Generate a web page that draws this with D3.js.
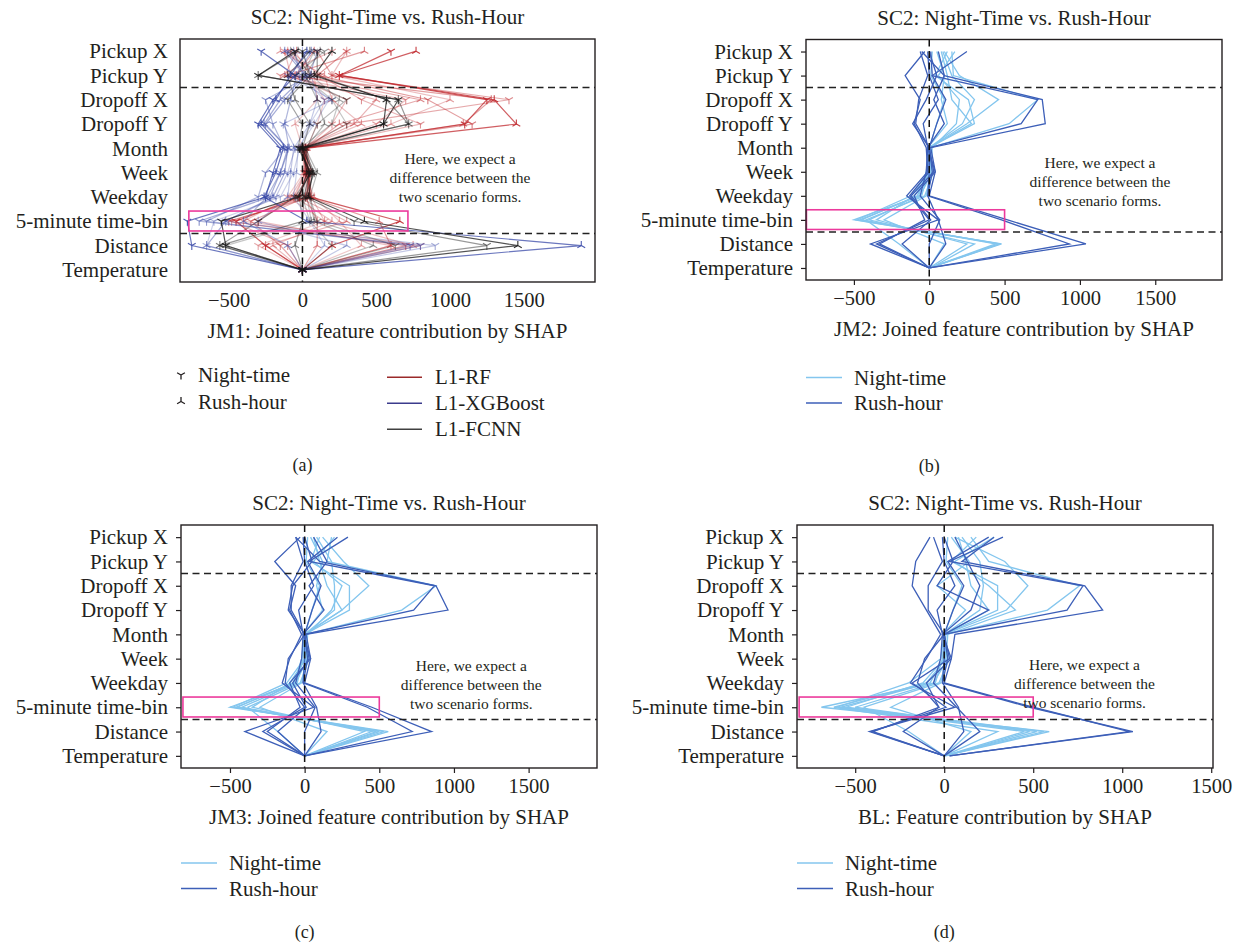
<!DOCTYPE html>
<html><head><meta charset="utf-8">
<script src="https://cdn.jsdelivr.net/npm/d3@7"></script>
<style>
body{margin:0;background:#fff}
svg{display:block}
text{font-family:"Liberation Serif","Times New Roman",serif;fill:#231f20}
</style>
</head><body>
<svg id="chart" width="1240" height="945"></svg>
<script>
// ---------------- DATA ----------------
const features = ["Pickup X","Pickup Y","Dropoff X","Dropoff Y","Month","Week","Weekday","5-minute time-bin","Distance","Temperature"];
const xTicks = [-500, 0, 500, 1000, 1500];
const titleText = "SC2: Night-Time vs. Rush-Hour";
const annotationLines = ["Here, we expect a","difference between the","two scenario forms."];
const xLabels = ["JM1: Joined feature contribution by SHAP","JM2: Joined feature contribution by SHAP","JM3: Joined feature contribution by SHAP","BL: Feature contribution by SHAP"];
const panelTags = ["(a)","(b)","(c)","(d)"];
const scenarioNames = ["Night-time","Rush-hour"];
const modelNames = ["L1-RF","L1-XGBoost","L1-FCNN"];

// JM1 (panel a): per model, night-time and rush-hour instances
const jm1RfNight = [
  [600, 250, 1250, 1100, 10, 30, -20, -450, -250, 0],
  [300, 100, 850, 1150, 0, 40, 60, -500, 700, 0],
  [-120, -80, 300, 200, 20, 20, -80, -400, 800, 0],
  [100, 200, 1400, 300, -10, 50, 30, -350, -150, 0],
  [-50, 50, 150, 100, 30, 10, -100, 150, -300, 0],
  [200, -150, 700, 500, 0, 20, -60, -300, 600, 0],
  [-80, 120, 400, 800, 10, 30, 20, -480, -100, 0]
];
const jm1RfRush = [
  [770, 250, 1300, 1450, 20, 40, 50, 660, 200, 0],
  [420, -100, 1280, 1090, 10, 30, 40, 520, 600, 0],
  [-150, 150, 200, 400, 0, 20, -50, 200, -200, 0],
  [80, -50, 800, 250, 30, 60, 20, 100, 100, 0],
  [-100, 80, 100, -50, 0, 10, 80, 250, 400, 0],
  [300, 200, 1000, 600, 20, 50, 60, 150, 750, 0],
  [-40, -120, 500, 350, 0, 30, -30, 300, -250, 0]
];
const jm1XgbNight = [
  [-280, -50, -200, -300, -150, -200, -250, -780, -750, 0],
  [-100, 30, -120, -250, -100, -150, -220, -700, 800, 0],
  [50, -100, 200, -130, -50, -100, -180, -520, 900, 0],
  [100, 50, -250, -200, -120, -250, -300, -650, 730, 0],
  [-50, -20, 150, 50, -20, -60, -150, -600, -650, 0]
];
const jm1XgbRush = [
  [30, -80, -180, -280, -130, -180, -260, 30, 1890, 0],
  [-120, 20, -150, -260, -100, -120, -200, -520, -650, 0],
  [0, 60, 100, 50, -60, -80, -100, -300, 300, 0],
  [60, -40, -80, -120, -90, -150, -240, -400, -100, 0],
  [-60, 0, 180, 80, -30, -40, -60, 50, 150, 0]
];
const jm1FcnnNight = [
  [-50, -300, 650, 550, -20, 50, -30, -550, -520, 0],
  [100, 100, 570, 720, 10, 80, 20, 350, 1250, 0],
  [150, -50, 300, 100, 30, 40, 50, 100, 630, 0],
  [0, 50, -100, 0, -30, 60, -50, -300, -560, 0],
  [80, 0, 200, 300, 0, 30, 0, 50, 200, 0]
];
const jm1FcnnRush = [
  [200, 80, 570, 550, 0, 70, 40, 420, 1460, 0],
  [-30, -300, 650, 720, -10, 50, 10, 0, -560, 0],
  [120, 20, 100, 150, 20, 100, 50, 80, 480, 0],
  [50, -100, -50, 50, 0, 30, -20, 0, -50, 0],
  [-80, 60, 250, 200, -20, 40, 30, 60, -520, 0]
];

// JM2 (panel b)
const jm2Night = [
  [100, 200, 460, 250, 0, 20, -60, -500, 480, 0],
  [150, 160, 720, 530, 10, 0, -80, -450, 460, 0],
  [80, 120, 150, 280, 0, -10, -50, -400, 300, 10],
  [170, 60, 200, 180, 20, 10, -100, -350, 250, 0],
  [50, 100, 80, 120, -10, 30, -30, -420, -200, 0],
  [120, 40, 260, 300, 0, 0, -120, -480, 470, 0],
  [20, 10, 100, 50, 0, 10, -20, -300, 100, 0],
  [90, 150, 300, 220, 0, -20, -70, -460, 440, 0]
];
const jm2Rush = [
  [250, 20, 720, 610, 0, 20, -10, 480, 930, 0],
  [-50, 100, 750, 770, 10, 40, 0, 520, 1040, 0],
  [-30, -160, -60, -100, -20, -10, -150, 60, -390, 0],
  [0, 50, -20, -110, 0, 0, -130, 0, -350, 0],
  [60, 100, 30, 100, -10, 40, -100, -30, -330, 0],
  [-60, -10, -70, -90, 0, 30, -120, 10, -180, 0],
  [10, 20, 110, 50, 0, 0, -10, 60, 110, 0],
  [-10, 0, 60, -40, -10, -20, -60, 70, 0, 0]
];

// JM3 (panel c)
const jm3Night = [
  [120, 260, 430, 250, 0, 20, -60, -500, 560, 0],
  [180, 150, 880, 650, 10, 0, -80, -450, 500, 0],
  [60, 100, 150, 250, 0, -10, -50, -420, 450, 10],
  [200, 60, 250, 180, 20, 10, -100, -350, 400, 0],
  [40, 120, 80, 120, -10, 30, -30, -380, -180, 0],
  [100, 40, 300, 300, 0, 0, -120, -480, 530, 0],
  [20, 10, 100, 50, 0, 10, -20, -300, 150, 0],
  [80, 180, 200, 200, 0, -20, -70, -460, 480, 0]
];
const jm3Rush = [
  [290, 30, 870, 730, 0, 20, -10, 420, 720, 0],
  [-60, 100, 880, 960, 10, 40, 0, 450, 850, 0],
  [-30, -200, -60, -100, -20, -100, -150, 60, -400, 0],
  [0, 50, -80, -110, 0, -110, -130, 0, -280, 0],
  [60, 150, 30, 130, -10, 40, -100, -30, -250, 0],
  [-60, -10, -90, -90, 0, 30, -80, 10, -180, 0],
  [220, 20, 110, 50, 0, 0, -10, 80, 110, 0],
  [-10, 0, 60, -40, -10, -20, -60, 70, 0, 0]
];

// BL (panel d)
const blNight = [
  [60, 340, 470, 350, 0, 20, -60, -690, 590, 0],
  [150, 250, 760, 580, 10, 0, -80, -580, 520, 0],
  [80, 120, 150, 250, 0, -10, -50, -500, 480, 10],
  [280, 60, 250, 400, 20, 10, -100, -620, 300, 0],
  [40, 140, -40, 120, -10, 30, -30, -450, -200, 0],
  [180, 40, 300, 300, 0, 0, -120, -550, 560, 0],
  [20, 10, 100, 50, 0, 10, -20, -300, 150, 0],
  [100, 200, 220, 200, 0, -20, -200, -600, 450, 0]
];
const blRush = [
  [330, 30, 780, 690, 0, 20, -10, 480, 1060, 30],
  [280, 100, 790, 890, 60, 40, 0, 500, 1040, 30],
  [-80, -160, -180, -100, -20, -100, -190, 60, -420, 0],
  [0, 50, -40, 250, 0, -110, -150, -30, -400, 0],
  [60, 130, 200, 150, -10, 40, -100, -30, -230, 0],
  [-60, -10, -90, -90, 0, 30, -180, 10, -410, 0],
  [250, 20, 110, 50, 0, 0, -10, 80, 110, 0],
  [-10, 0, 60, -40, -10, -20, -60, 70, 200, 0]
];

// pink highlight box extent (data units)
const highlightA = [-770, 715];
const highlightBCD = [-815, 500];

// ---------------- LAYOUT / STYLE ----------------
const svg = d3.select("#chart");
const ink = "#231f20";
const FONT = 20.5;
const nightBlue = "#84c6ee", rushBlue = "#3d5fb8";
const modelColors = ["#c0282d", "#3a4aa8", "#1a1a1a"];
const modelLegendColors = ["#9b2a2a", "#3b3b8c", "#404040"];

const panels = [
  {box:[180,39,595,282], domain:[-830,1983], ticks:false, label:xLabels[0], hl:highlightA, annoX:1068, annoY:158, tag:panelTags[0], tagY:465},
  {box:[806,39.5,1222,280], domain:[-818,1943], ticks:true, label:xLabels[1], hl:highlightBCD, annoX:1133, annoY:162, tag:panelTags[1], tagY:466,
    night:jm2Night, rush:jm2Rush, legX:806, legY:377.5},
  {box:[181,525,597,768], domain:[-828,1958], ticks:true, label:xLabels[2], hl:highlightBCD, annoX:1116, annoY:665, tag:panelTags[2], tagY:932,
    night:jm3Night, rush:jm3Rush, legX:181, legY:863},
  {box:[797,525,1213,768], domain:[-827,1510], ticks:true, label:xLabels[3], hl:highlightBCD, annoX:788, annoY:664, tag:panelTags[3], tagY:932,
    night:blNight, rush:blRush, legX:797, legY:863}
];

function triPath(s, down){
  const h = s*0.866, v = s*0.5;
  return down ? `M0,0V${s}M0,0L${-h},${-v}M0,0L${h},${-v}`
              : `M0,0V${-s}M0,0L${-h},${v}M0,0L${h},${v}`;
}
const fmt = d3.format("d");

panels.forEach((p, pi) => {
  const [x0,y0,x1,y1] = p.box;
  const x = d3.scaleLinear().domain(p.domain).range([x0,x1]);
  const y = d3.scalePoint().domain(features).range([y0,y1]).padding(0.5);
  const step = y.step();
  const g = svg.append("g");
  const clipId = "clip"+pi;
  g.append("clipPath").attr("id",clipId).append("rect")
    .attr("x",x0).attr("y",y0).attr("width",x1-x0).attr("height",y1-y0);

  // title
  g.append("text").attr("x",(x0+x1)/2).attr("y",y0-22).attr("text-anchor","middle")
    .attr("dominant-baseline","central").attr("font-size",21).text(titleText);

  // axes
  const ax = d3.axisBottom(x).tickValues(xTicks).tickFormat(fmt).tickSize(p.ticks?5:0).tickPadding(p.ticks?5.5:10.5);
  const ay = d3.axisLeft(y).tickSize(p.ticks?5:0).tickPadding(p.ticks?8:12);
  const gx = g.append("g").attr("transform",`translate(0,${y1})`).call(ax);
  const gy = g.append("g").attr("transform",`translate(${x0},0)`).call(ay);
  [gx,gy].forEach(a=>{
    a.select(".domain").remove();
    a.selectAll("line").attr("stroke",ink).attr("stroke-width",1.2);
    a.selectAll("text").attr("font-size",FONT).attr("fill",ink)
      .style("font-family",'"Liberation Serif","Times New Roman",serif');
  });
  gy.selectAll("text").attr("font-size",21);

  // x label
  g.append("text").attr("x",(x0+x1)/2).attr("y",y1+49).attr("text-anchor","middle")
    .attr("dominant-baseline","central").attr("font-size",21).text(p.label);

  const plot = g.append("g").attr("clip-path",`url(#${clipId})`);
  const line = d3.line().x(d=>x(d)).y((d,i)=>y(features[i]));

  if(pi===0){
    const groups = [
      [jm1RfNight, jm1RfRush],
      [jm1XgbNight, jm1XgbRush],
      [jm1FcnnNight, jm1FcnnRush]
    ];
    const opac = [0.75, 0.45, 0.3, 0.4, 0.25, 0.3, 0.35];
    groups.forEach((grp, mi) => {
      grp.forEach((set, si) => {
        set.forEach((vals, li) => {
          const o = opac[li % opac.length];
          plot.append("path").attr("d", line(vals)).attr("fill","none")
            .attr("stroke", modelColors[mi]).attr("stroke-width",1.2).attr("stroke-opacity", o);
          plot.selectAll(null).data(vals).enter().append("path")
            .attr("d", triPath(4.5, si===0))
            .attr("transform",(d,i)=>`translate(${x(d)},${y(features[i])})`)
            .attr("fill","none").attr("stroke", modelColors[mi]).attr("stroke-width",1.1)
            .attr("stroke-opacity", Math.min(1,o+0.15));
        });
      });
    });
  } else {
    [[p.night, nightBlue],[p.rush, rushBlue]].forEach(([set, col]) => {
      set.forEach(vals => {
        plot.append("path").attr("d", line(vals)).attr("fill","none")
          .attr("stroke", col).attr("stroke-width",1.3);
      });
    });
  }

  // dashed separators
  const seps = [(y(features[1])+y(features[2]))/2, (y(features[7])+y(features[8]))/2];
  seps.forEach(sy => g.append("line").attr("x1",x0).attr("x2",x1).attr("y1",sy).attr("y2",sy)
    .attr("stroke","#222").attr("stroke-width",1.5).attr("stroke-dasharray","7,4.5"));
  g.append("line").attr("x1",x(0)).attr("x2",x(0)).attr("y1",y0).attr("y2",y1)
    .attr("stroke","#111").attr("stroke-width",1.5).attr("stroke-dasharray","7,4.5");

  // highlight rectangle
  const ry = y(features[7]);
  g.append("rect").attr("x",x(p.hl[0])).attr("y",ry-0.42*step)
    .attr("width",x(p.hl[1])-x(p.hl[0])).attr("height",0.82*step)
    .attr("fill","none").attr("stroke","#ec3a9c").attr("stroke-width",1.6);

  // annotation
  annotationLines.forEach((t,i)=> g.append("text").attr("x",x(p.annoX)).attr("y",p.annoY+i*19.2)
    .attr("text-anchor","middle").attr("dominant-baseline","central").attr("font-size",15.5).text(t));

  // box
  g.append("rect").attr("x",x0).attr("y",y0).attr("width",x1-x0).attr("height",y1-y0)
    .attr("fill","none").attr("stroke",ink).attr("stroke-width",1.4);

  // panel tag, centred under the zero line
  g.append("text").attr("x",x(0)).attr("y",p.tagY).attr("text-anchor","middle")
    .attr("dominant-baseline","central").attr("font-size",18).text(p.tag);

  // legends for b-d
  if(pi>0){
    [nightBlue, rushBlue].forEach((c,i)=>{
      const ly = p.legY + i*25.5;
      g.append("line").attr("x1",p.legX).attr("x2",p.legX+36).attr("y1",ly).attr("y2",ly)
        .attr("stroke",c).attr("stroke-width",1.6);
      g.append("text").attr("x",p.legX+48).attr("y",ly).attr("dominant-baseline","central")
        .attr("font-size",21).text(scenarioNames[i]);
    });
  }
});

// legend for panel a
const la = svg.append("g");
scenarioNames.forEach((n,i)=>{
  const ly = 375 + i*26.5;
  la.append("path").attr("d", triPath(4.5, i===0)).attr("transform",`translate(181,${ly})`)
    .attr("fill","none").attr("stroke",ink).attr("stroke-width",1.3);
  la.append("text").attr("x",198).attr("y",ly).attr("dominant-baseline","central").attr("font-size",21).text(n);
});
modelNames.forEach((n,i)=>{
  const ly = 377.3 + i*26;
  la.append("line").attr("x1",387).attr("x2",422).attr("y1",ly).attr("y2",ly)
    .attr("stroke",modelLegendColors[i]).attr("stroke-width",1.6);
  la.append("text").attr("x",435).attr("y",ly).attr("dominant-baseline","central").attr("font-size",21).text(n);
});
</script>
</body></html>
